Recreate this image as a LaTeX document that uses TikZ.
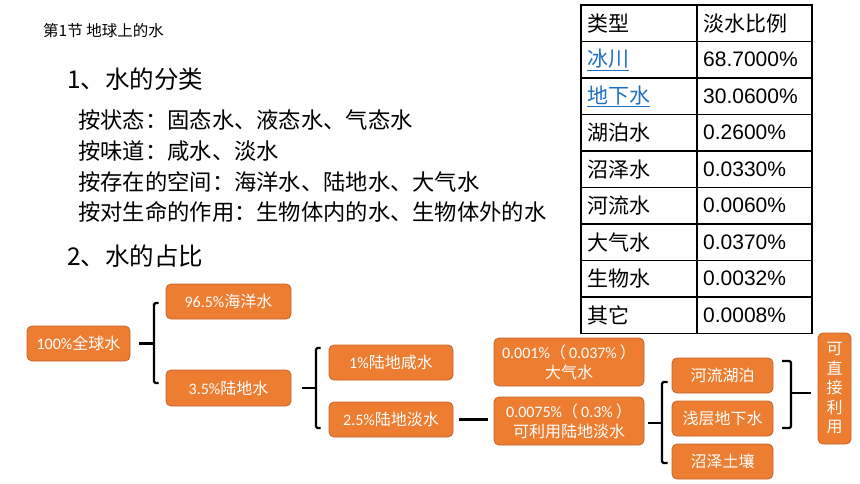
\documentclass[tikz,border=0pt]{standalone}
\usepackage{fontspec}
\setmainfont{Noto Sans CJK SC}
\newfontfamily\numfont{Liberation Sans}
\newfontfamily\boxlat{Carlito}
\definecolor{orangefill}{HTML}{ED7D31}
\definecolor{orangeedge}{HTML}{C2632A}
\definecolor{linkblue}{HTML}{1F6FC5}
\tikzset{
  obox/.style={draw=orangeedge, fill=orangefill, rounded corners=5pt, text=white,
    font=\fontsize{16}{20}\selectfont, inner sep=0pt, line width=0.8pt, align=center},
  brk/.style={draw=black, line width=2.4pt, rounded corners=1.5pt},
  tline/.style={draw=black, line width=1.1pt},
  tcell/.style={anchor=west, inner sep=0pt, font=\fontsize{21}{24}\selectfont},
  para/.style={anchor=west, inner sep=0pt, font=\fontsize{22.3}{26}\selectfont},
  head/.style={anchor=west, inner sep=0pt, font=\fontsize{24.5}{28}\selectfont}
}
\begin{document}
\begin{tikzpicture}[x=1pt,y=-1pt]
\useasboundingbox (0,0) rectangle (860,484);
% texts
\node[anchor=west, inner sep=0pt, font=\fontsize{15.5}{18}\selectfont] (title) at (43,31) {第1节 地球上的水};
\node[head] (h1) at (67,79) {1、水的分类};
\node[para] (p1) at (78,120) {按状态：固态水、液态水、气态水};
\node[para] (p2) at (78,151) {按味道：咸水、淡水};
\node[para] (p3) at (78,181.5) {按存在的空间：海洋水、陆地水、大气水};
\node[para] (p4) at (78,212) {按对生命的作用：生物体内的水、生物体外的水};
\node[head] (h2) at (67,256) {2、水的占比};
% table
\foreach \i in {1,...,8} {\draw[tline] (581,{5+36.5*\i}) -- (812,{5+36.5*\i});}
\draw[tline] (697,5) -- (697,333.5);
\draw[draw=black, line width=1.8pt] (581,5) rectangle (812,333.5);
\node[tcell] (c0a) at (587,{5+36.5*0.5}) {类型};
\node[tcell] (c0b) at (703,{5+36.5*0.5}) {淡水比例};
\node[tcell, text=linkblue] (c1a) at (587,{5+36.5*1.5}) {\underline{冰川}};
\node[tcell] (c1b) at (703,{5+36.5*1.5}) {\numfont 68.7000\%};
\node[tcell, text=linkblue] (c2a) at (587,{5+36.5*2.5}) {\underline{地下水}};
\node[tcell] (c2b) at (703,{5+36.5*2.5}) {\numfont 30.0600\%};
\node[tcell] (c3a) at (587,{5+36.5*3.5}) {湖泊水};
\node[tcell] (c3b) at (703,{5+36.5*3.5}) {\numfont 0.2600\%};
\node[tcell] (c4a) at (587,{5+36.5*4.5}) {沼泽水};
\node[tcell] (c4b) at (703,{5+36.5*4.5}) {\numfont 0.0330\%};
\node[tcell] (c5a) at (587,{5+36.5*5.5}) {河流水};
\node[tcell] (c5b) at (703,{5+36.5*5.5}) {\numfont 0.0060\%};
\node[tcell] (c6a) at (587,{5+36.5*6.5}) {大气水};
\node[tcell] (c6b) at (703,{5+36.5*6.5}) {\numfont 0.0370\%};
\node[tcell] (c7a) at (587,{5+36.5*7.5}) {生物水};
\node[tcell] (c7b) at (703,{5+36.5*7.5}) {\numfont 0.0032\%};
\node[tcell] (c8a) at (587,{5+36.5*8.5}) {其它};
\node[tcell] (c8b) at (703,{5+36.5*8.5}) {\numfont 0.0008\%};
% boxes
\node[obox, minimum width=103pt, minimum height=35pt] (b100) at (78.5,343.5) {{\boxlat 100\%}全球水};
\node[obox, minimum width=125pt, minimum height=35pt] (b965) at (228.5,301.5) {{\boxlat 96.5\%}海洋水};
\node[obox, minimum width=125pt, minimum height=36pt] (b35) at (228.5,388) {{\boxlat 3.5\%}陆地水};
\node[obox, minimum width=124pt, minimum height=35pt] (b1) at (391,362.5) {{\boxlat 1\%}陆地咸水};
\node[obox, minimum width=124pt, minimum height=35pt] (b25) at (391,419.5) {{\boxlat 2.5\%}陆地淡水};
\node[obox, minimum width=150pt, minimum height=48pt] (bair) at (569,362) {{\boxlat 0.001\%}（\hspace{3pt}{\boxlat 0.037\%}\hspace{3pt}）\\大气水};
\node[obox, minimum width=150pt, minimum height=48pt] (buse) at (569,421) {{\boxlat 0.0075\%}（\hspace{3pt}{\boxlat 0.3\%}\hspace{3pt}）\\可利用陆地淡水};
\node[obox, minimum width=101pt, minimum height=35pt] (briver) at (722.5,375.5) {河流湖泊};
\node[obox, minimum width=101pt, minimum height=35pt] (bground) at (722.5,418.5) {浅层地下水};
\node[obox, minimum width=101pt, minimum height=35pt] (bswamp) at (722.5,461.5) {沼泽土壤};
\node[obox, minimum width=33pt, minimum height=111pt, font=\fontsize{16}{19.5}\selectfont] (bdirect) at (834.5,388.5) {可\\直\\接\\利\\用};
% brackets
\coordinate (k1) at (154,343.5);
\draw[brk] ([xshift=9pt]b100.east) -- (k1);
\draw[brk] (158.5,303) -- (154,303) -- (154,383) -- (158.5,383);
\coordinate (k2) at (316,388);
\draw[brk] ([xshift=11pt]b35.east) -- (k2);
\draw[brk] (320.5,348) -- (316,348) -- (316,428) -- (320.5,428);
\draw[brk] ([xshift=6pt]b25.east) -- ([xshift=-6pt]b25.east -| buse.west);
\coordinate (k3) at (662,423);
\draw[brk] ([xshift=4pt]buse.east |- k3) -- (k3);
\draw[brk] (667.5,382) -- (662,382) -- (662,463) -- (667.5,463);
\coordinate (k4) at (791,393);
\draw[brk] (782,361) -- (791,361) -- (791,428) -- (782,428);
\draw[brk] (k4) -- ([xshift=-7pt]bdirect.west |- k4);
\end{tikzpicture}
\end{document}
